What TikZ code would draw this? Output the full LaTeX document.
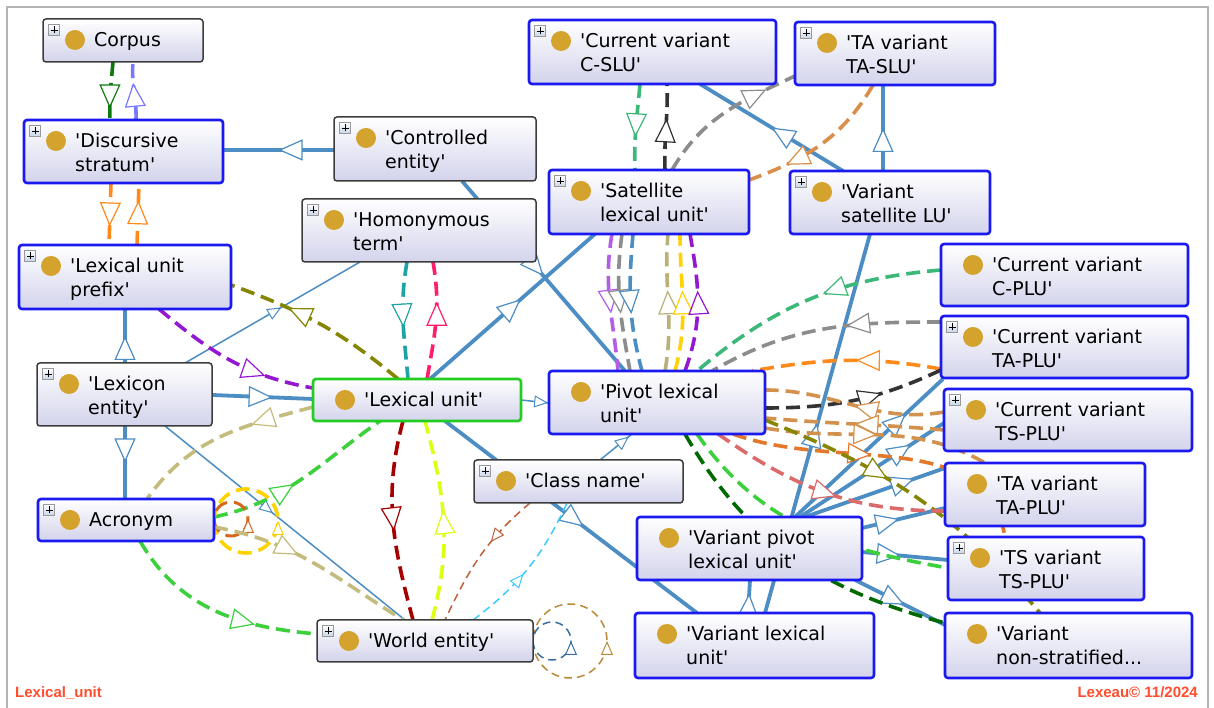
\documentclass[tikz,border=0pt]{standalone}
\usepackage{fontspec}
\setmainfont{DejaVu Sans}
\newfontfamily\footfont{Liberation Sans}
\usetikzlibrary{arrows.meta,decorations.markings,backgrounds}
\definecolor{isab}{HTML}{4C8DC4}
\definecolor{nodebot}{HTML}{D3D3EC}
\definecolor{bordblue}{HTML}{1A1AF0}
\definecolor{borddark}{HTML}{3C3C3C}
\definecolor{bordgreen}{HTML}{22CC22}
\definecolor{gold}{HTML}{D4A32E}
\definecolor{plusbot}{HTML}{C8D4E8}
\definecolor{footred}{HTML}{FF4D2E}
\definecolor{framec}{HTML}{B4B4B4}
\definecolor{cDG}{HTML}{0E7A0E}
\definecolor{cDG2}{HTML}{006A00}
\definecolor{cLB}{HTML}{7878FF}
\definecolor{cOr}{HTML}{FF8A1C}
\definecolor{cPu}{HTML}{9418D0}
\definecolor{cPl}{HTML}{B45EE6}
\definecolor{cOl}{HTML}{858500}
\definecolor{cKh}{HTML}{C4BC7C}
\definecolor{cKh2}{HTML}{B9B177}
\definecolor{cBG}{HTML}{3CD03C}
\definecolor{cYe}{HTML}{FFD200}
\definecolor{cCh}{HTML}{D2691E}
\definecolor{cDR}{HTML}{A60000}
\definecolor{cYG}{HTML}{DDFF11}
\definecolor{cTe}{HTML}{1FA3A3}
\definecolor{cPk}{HTML}{FF1E6A}
\definecolor{cSi}{HTML}{C0603A}
\definecolor{cSk}{HTML}{3CCBFF}
\definecolor{cTan}{HTML}{BA8A3A}
\definecolor{cNv}{HTML}{3A6FA0}
\definecolor{cGy}{HTML}{8C8C8C}
\definecolor{cSG}{HTML}{3CB878}
\definecolor{cBk}{HTML}{333333}
\definecolor{cPe}{HTML}{D98E4A}
\definecolor{cTn}{HTML}{D3914E}
\definecolor{cOd}{HTML}{E4782A}
\definecolor{cSa}{HTML}{DB6B6B}
\newcommand\q{\textquotesingle}
% pixel coordinate measured from the top-left of the picture, attached to a named node
\pgfkeys{/tikz/px/.cd, n/.initial=, x/.initial=0, y/.initial=0}
\tikzdeclarecoordinatesystem{px}{%
  \pgfkeys{/tikz/px/.cd,#1}%
  \edef\pxn{\pgfkeysvalueof{/tikz/px/n}}%
  \edef\pxdx{\the\numexpr\pgfkeysvalueof{/tikz/px/x}-\csname X@\pxn\endcsname\relax pt}%
  \edef\pxdy{\the\numexpr\csname Y@\pxn\endcsname-\pgfkeysvalueof{/tikz/px/y}\relax pt}%
  \pgfpointadd{\pgfpointanchor{\pxn}{north west}}{\pgfpoint{\pxdx}{\pxdy}}%
}
\newcommand\bx[9]{%
  \expandafter\def\csname X@#1\endcsname{#2}%
  \expandafter\def\csname Y@#1\endcsname{#3}%
  \node[nbox,#6,minimum width={(#4)-(#2)},minimum height={(#5)-(#3)},anchor=north west] (#1) at (#2,708-#3) {};
  \node[dot] (#1-d) at ([xshift=32pt,yshift=-21pt]#1.north west) {};
  \node[lbl] (#1-a) at ([xshift=51pt,yshift=-28pt]#1.north west) {#8};
  \if\relax\detokenize{#9}\relax\else
    \node[lbl] (#1-b) at ([xshift=51pt,yshift=-52pt]#1.north west) {#9};
  \fi
  \ifnum#7=1
    \node[plusb] (#1-p) at ([xshift=11pt,yshift=-11pt]#1.north west) {};
    \draw[line width=0.9pt] ([xshift=-3.5pt]#1-p.center) -- ([xshift=3.5pt]#1-p.center)
      ([yshift=-3.5pt]#1-p.center) -- ([yshift=3.5pt]#1-p.center);
  \fi
}
\tikzset{
 am/.style={postaction={decorate,decoration={markings,mark=at position #1 with {\arrow{Triangle[fill=white,length=24pt,width=21pt,line width=1.2pt]}}}}},
 ams/.style={postaction={decorate,decoration={markings,mark=at position #1 with {\arrow{Triangle[fill=white,length=14pt,width=12pt,line width=1pt]}}}}},
 isa/.style={draw=isab,line width=3.8pt},
 isathin/.style={draw=isab,line width=1.5pt},
 dsh/.style={line width=3.6pt,dash pattern=on 14pt off 7pt},
 dshthin/.style={line width=1.5pt,dash pattern=on 8pt off 5pt},
 nbox/.style={rectangle,rounded corners=3pt,top color=white,bottom color=nodebot,inner sep=0pt,outer sep=0pt},
 bb/.style={draw=bordblue,line width=2.6pt},
 db/.style={draw=borddark,line width=1.5pt},
 gb/.style={draw=bordgreen,line width=2.6pt},
 dot/.style={circle,fill=gold,minimum size=20pt,inner sep=0pt},
 lbl/.style={anchor=base west,inner sep=0pt,font=\fontsize{19}{22}\selectfont},
 plusb/.style={rectangle,draw=gray!80,line width=0.6pt,top color=white,bottom color=plusbot,minimum size=11pt,inner sep=0pt},
 foot/.style={font=\footfont\bfseries\fontsize{15}{18}\selectfont,text=footred,inner sep=0pt},
}
\begin{document}
\begin{tikzpicture}[x=1pt,y=1pt]
\useasboundingbox (0,0) rectangle (1214,708);

\bx{corpus}{43}{19}{203}{62}{db}{1}{Corpus}{}
\bx{disc}{24}{120}{223}{183}{bb}{1}{\q Discursive}{stratum\q}
\bx{ctrl}{334}{117}{536}{181}{db}{1}{\q Controlled}{entity\q}
\bx{homo}{302}{199}{536}{262}{db}{1}{\q Homonymous}{term\q}
\bx{prefix}{19}{245}{231}{309}{bb}{1}{\q Lexical unit}{prefix\q}
\bx{lexent}{37}{363}{212}{426}{db}{1}{\q Lexicon}{entity\q}
\bx{lu}{313}{379}{521}{421}{gb}{0}{\q Lexical unit\q}{}
\bx{acro}{38}{499}{214}{541}{bb}{1}{Acronym}{}
\bx{world}{317}{620}{533}{662}{db}{1}{\q World entity\q}{}
\bx{cls}{474}{460}{683}{503}{db}{1}{\q Class name\q}{}
\bx{sat}{549}{170}{749}{234}{bb}{1}{\q Satellite}{lexical unit\q}
\bx{piv}{549}{371}{765}{434}{bb}{0}{\q Pivot lexical}{unit\q}
\bx{cslu}{529}{20}{776}{84}{bb}{1}{\q Current variant}{C-SLU\q}
\bx{taslu}{795}{22}{995}{85}{bb}{1}{\q TA variant}{TA-SLU\q}
\bx{vsat}{790}{171}{990}{234}{bb}{1}{\q Variant}{satellite LU\q}
\bx{cplu}{941}{244}{1188}{306}{bb}{0}{\q Current variant}{C-PLU\q}
\bx{ctaplu}{941}{316}{1188}{378}{bb}{1}{\q Current variant}{TA-PLU\q}
\bx{ctsplu}{944}{389}{1192}{451}{bb}{1}{\q Current variant}{TS-PLU\q}
\bx{taplu}{945}{463}{1145}{526}{bb}{0}{\q TA variant}{TA-PLU\q}
\bx{tsplu}{948}{537}{1144}{600}{bb}{1}{\q TS variant}{TS-PLU\q}
\bx{vpiv}{637}{517}{862}{580}{bb}{0}{\q Variant pivot}{lexical unit\q}
\bx{vlu}{635}{613}{874}{678}{bb}{0}{\q Variant lexical}{unit\q}
\bx{vns}{945}{613}{1192}{678}{bb}{0}{\q Variant}{non-stratified...}

\node[foot,anchor=base west] (ftl) at (15,10) {Lexical\_unit};
\node[foot,anchor=base east] (ftr) at (1198,10) {Lexeau© 11/2024};

\begin{pgfonlayer}{background}
\fill[white] (0,0) rectangle (1214,708);
\draw[framec,line width=2pt] (7,-5) -- (7,701) -- (1208,701) -- (1208,-5);
% is-a links
\draw[isa,am=0.5] (px cs:n=ctrl,x=334,y=150) -- (px cs:n=disc,x=223,y=150);
\draw[isa,am=0.5] (px cs:n=lexent,x=125,y=363) -- (px cs:n=prefix,x=125,y=309);
\draw[isa,am=0.5] (px cs:n=lexent,x=125,y=426) -- (px cs:n=acro,x=125,y=499);
\draw[isa,am=0.6] (px cs:n=lexent,x=212,y=395) -- (px cs:n=lu,x=313,y=399);
\draw[isathin,ams=0.55] (px cs:n=lexent,x=185,y=363) -- (px cs:n=homo,x=360,y=262);
\draw[isathin,ams=0.45] (px cs:n=lexent,x=165,y=426) -- (px cs:n=world,x=405,y=620);
\draw[isa,am=0.55] (px cs:n=lu,x=430,y=379) -- (px cs:n=sat,x=595,y=234);
\draw[isathin,ams=0.97] (px cs:n=lu,x=521,y=400) -- (px cs:n=piv,x=549,y=403);
\draw[isa,am=0.55] (px cs:n=lu,x=445,y=421) -- (px cs:n=vlu,x=697,y=613);
\draw[isathin,ams=0.9] (px cs:n=cls,x=600,y=460) -- (px cs:n=piv,x=632,y=434);
\draw[isa,am=0.5] (px cs:n=ctrl,x=462,y=181) -- (px cs:n=piv,x=625,y=371);
\draw[isa,am=0.5] (px cs:n=vsat,x=843,y=171) -- (px cs:n=cslu,x=700,y=84);
\draw[isa,am=0.5] (px cs:n=vsat,x=883,y=171) -- (px cs:n=taslu,x=883,y=85);
\draw[isa,am=0.5] (px cs:n=vlu,x=765,y=613) -- (px cs:n=vsat,x=870,y=234);
\draw[isa,am=0.6] (px cs:n=vlu,x=748,y=613) -- (px cs:n=vpiv,x=750,y=580);
\draw[isa,am=0.75] (px cs:n=vpiv,x=795,y=517) -- (px cs:n=ctaplu,x=943,y=379);
\draw[isa,am=0.77] (px cs:n=vpiv,x=800,y=517) -- (px cs:n=ctsplu,x=944,y=423);
\draw[isa,am=0.78] (px cs:n=vpiv,x=805,y=517) -- (px cs:n=taplu,x=945,y=468);
\draw[isa,am=0.45] (px cs:n=vpiv,x=862,y=528) -- (px cs:n=taplu,x=945,y=508);
\draw[isa,am=0.45] (px cs:n=vpiv,x=862,y=552) -- (px cs:n=tsplu,x=948,y=560);
\draw[isa,am=0.55] (px cs:n=vpiv,x=855,y=580) -- (px cs:n=vns,x=945,y=625);
% dashed object properties
\draw[dsh,cDG,am=0.8] (px cs:n=corpus,x=113,y=62) to[out=-95,in=92] (px cs:n=disc,x=110,y=120);
\draw[dsh,cLB,am=0.64] (px cs:n=disc,x=136,y=120) to[out=88,in=-95] (px cs:n=corpus,x=133,y=62);
\draw[dsh,cOr,am=0.7] (px cs:n=disc,x=111,y=183) -- (px cs:n=prefix,x=109,y=245);
\draw[dsh,cOr,am=0.72] (px cs:n=prefix,x=137,y=245) -- (px cs:n=disc,x=139,y=183);
\draw[dsh,cPu,am=0.72] (px cs:n=prefix,x=159,y=309) to[out=-40,in=170] (px cs:n=lu,x=313,y=388);
\draw[dsh,cOl,am=0.68] (px cs:n=lu,x=398,y=379) to[out=140,in=-20] (px cs:n=prefix,x=231,y=285);
\draw[dsh,cKh,am=0.33] (px cs:n=lu,x=313,y=407) to[out=195,in=55] (px cs:n=acro,x=147,y=499);
\draw[dsh,cBG,am=0.45] (px cs:n=acro,x=214,y=517) to[out=12,in=215] (px cs:n=lu,x=380,y=421);
\draw[dsh,cBG,am=0.7] (px cs:n=acro,x=140,y=541) to[out=-60,in=175] (px cs:n=world,x=317,y=634);
\draw[dsh,cYe,ams=0.5] (px cs:n=acro,x=214,y=521) arc[start angle=180,end angle=540,radius=32];
\draw[dsh,cCh,line width=3pt,ams=0.5] (px cs:n=acro,x=214,y=519) arc[start angle=180,end angle=540,radius=17];
\draw[dsh,cKh,am=0.42] (px cs:n=acro,x=214,y=527) to[out=-10,in=148] (px cs:n=world,x=403,y=620);
\draw[dsh,cDR,am=0.55] (px cs:n=lu,x=403,y=421) to[out=-105,in=105] (px cs:n=world,x=413,y=620);
\draw[dsh,cYG,am=0.55] (px cs:n=world,x=432,y=620) to[out=75,in=-75] (px cs:n=lu,x=425,y=421);
\draw[dsh,cTe,am=0.56] (px cs:n=homo,x=407,y=262) to[out=-100,in=95] (px cs:n=lu,x=408,y=379);
\draw[dsh,cPk,am=0.66] (px cs:n=lu,x=427,y=379) to[out=80,in=-80] (px cs:n=homo,x=433,y=262);
\draw[dshthin,cSi,ams=0.38] (px cs:n=cls,x=530,y=503) to[out=-140,in=65] (px cs:n=world,x=445,y=620);
\draw[dshthin,cSk,ams=0.45] (px cs:n=world,x=473,y=620) to[out=37,in=-115] (px cs:n=cls,x=567,y=503);
\draw[dshthin,cTan,ams=0.5] (px cs:n=world,x=533,y=641) arc[start angle=180,end angle=540,radius=37];
\draw[dshthin,cNv,ams=0.5] (px cs:n=world,x=533,y=641) arc[start angle=180,end angle=540,radius=19];
% satellite / pivot
\draw[dsh,cPl,am=0.58] (px cs:n=sat,x=612,y=234) to[out=-100,in=95] (px cs:n=piv,x=618,y=371);
\draw[dsh,cGy,am=0.58] (px cs:n=sat,x=622,y=234) to[out=-98,in=100] (px cs:n=piv,x=630,y=371);
\draw[dsh,isab,am=0.58] (px cs:n=sat,x=633,y=234) to[out=-95,in=105] (px cs:n=piv,x=642,y=371);
\draw[dsh,cKh2,am=0.59] (px cs:n=piv,x=665,y=371) to[out=80,in=-95] (px cs:n=sat,x=668,y=234);
\draw[dsh,cYe,am=0.59] (px cs:n=piv,x=675,y=371) to[out=75,in=-90] (px cs:n=sat,x=680,y=234);
\draw[dsh,cPu,am=0.59] (px cs:n=piv,x=685,y=371) to[out=70,in=-80] (px cs:n=sat,x=690,y=234);
\draw[dsh,cSG,am=0.62] (px cs:n=cslu,x=640,y=84) to[out=-95,in=92] (px cs:n=sat,x=635,y=170);
\draw[dsh,cBk,am=0.6] (px cs:n=sat,x=665,y=170) to[out=92,in=-88] (px cs:n=cslu,x=667,y=84);
\draw[dsh,cGy,am=0.8] (px cs:n=sat,x=672,y=170) to[out=60,in=205] (px cs:n=taslu,x=795,y=76);
\draw[dsh,cPe,am=0.75] (px cs:n=taslu,x=873,y=85) to[out=-120,in=20] (px cs:n=sat,x=749,y=180);
% pivot to the right
\draw[dsh,cSG,am=0.45] (px cs:n=cplu,x=941,y=270) to[out=185,in=40] (px cs:n=piv,x=697,y=371);
\draw[dsh,cGy,am=0.4] (px cs:n=ctaplu,x=941,y=322) to[out=180,in=30] (px cs:n=piv,x=712,y=371);
\draw[dsh,cOr,am=0.45] (px cs:n=ctaplu,x=941,y=369) to[out=170,in=10] (px cs:n=piv,x=752,y=371);
\draw[dsh,cBk,am=0.65] (px cs:n=piv,x=765,y=408) to[out=0,in=205] (px cs:n=ctaplu,x=941,y=370);
\draw[dsh,cTn,am=0.5] (px cs:n=ctsplu,x=944,y=412) to[out=190,in=0] (px cs:n=piv,x=765,y=390);
\draw[dsh,cTn,am=0.5] (px cs:n=ctsplu,x=944,y=430) to[out=175,in=-5] (px cs:n=piv,x=765,y=418);
\draw[dsh,cTn,am=0.5] (px cs:n=piv,x=765,y=428) to[out=-10,in=150] (px cs:n=taplu,x=985,y=463);
\draw[dsh,cOd,am=0.45] (px cs:n=piv,x=733,y=434) to[out=-20,in=100] (px cs:n=tsplu,x=1005,y=537);
\draw[dsh,cOl,am=0.4] (px cs:n=piv,x=765,y=420) to[out=-22,in=130] (px cs:n=vns,x=1040,y=613);
\draw[dsh,cSa,am=0.55] (px cs:n=piv,x=718,y=434) to[out=-35,in=180] (px cs:n=taplu,x=945,y=511);
\draw[dsh,cDG2] (px cs:n=piv,x=685,y=434) to[out=-60,in=165] (px cs:n=vns,x=945,y=623);
\draw[dsh,cBG] (px cs:n=piv,x=697,y=434) to[out=-55,in=170] (px cs:n=tsplu,x=948,y=568);
\end{pgfonlayer}
\end{tikzpicture}
\end{document}
